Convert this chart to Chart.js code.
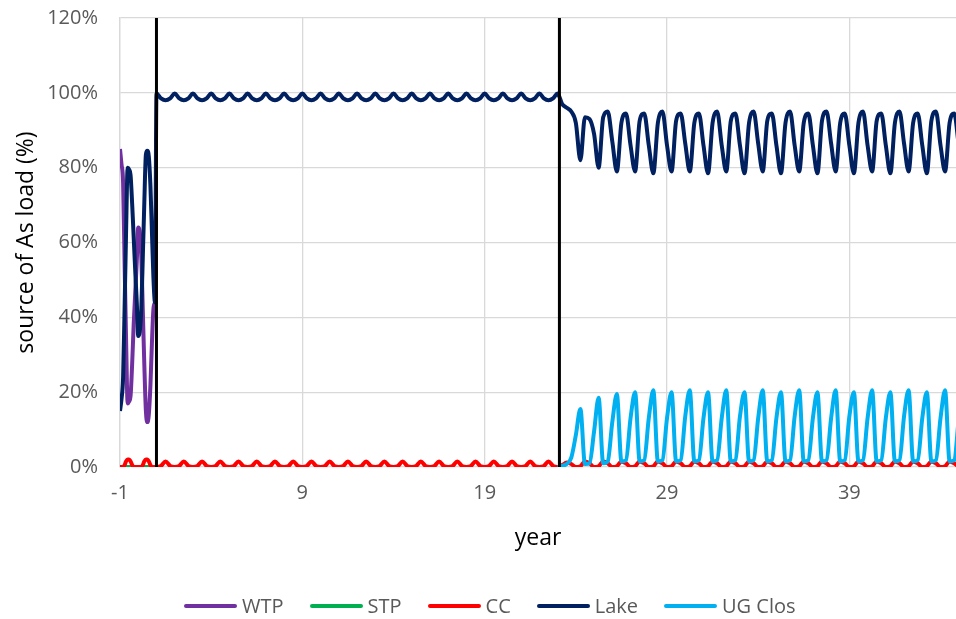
<!DOCTYPE html>
<html>
<head>
<meta charset="utf-8">
<script src="https://cdn.jsdelivr.net/npm/chart.js@4"></script>
<style>
  body { margin: 0; background: #fff; }
  #wrap { position: relative; width: 956px; height: 619px; }
  #legend {
    position: absolute; top: 594px; left: 184px;
    display: flex; align-items: center;
    font: 20px "Open Sans", sans-serif; line-height: 24px; color: #595959;
  }
  #legend .item { display: flex; align-items: center; margin-right: 26px; }
  #legend .swatch { width: 53px; height: 4px; border-radius: 2px; margin-right: 5px; }
</style>
</head>
<body>
<div id="wrap">
  <canvas id="asChart" width="956" height="619"></canvas>
  <div id="legend"></div>
</div>
<script>
// time axis: monthly for the first two years, quarterly afterwards
const years = [
  -1, -0.92, -0.83, -0.75, -0.67, -0.58, -0.5, -0.42, -0.33, -0.25, -0.17, -0.08,
  0, 0.08, 0.17, 0.25, 0.33, 0.42, 0.5, 0.58, 0.67, 0.75, 0.83, 0.92,
  1, 1.25, 1.5, 1.75, 2, 2.25, 2.5, 2.75,
  3, 3.25, 3.5, 3.75, 4, 4.25, 4.5, 4.75,
  5, 5.25, 5.5, 5.75, 6, 6.25, 6.5, 6.75,
  7, 7.25, 7.5, 7.75, 8, 8.25, 8.5, 8.75,
  9, 9.25, 9.5, 9.75, 10, 10.25, 10.5, 10.75,
  11, 11.25, 11.5, 11.75, 12, 12.25, 12.5, 12.75,
  13, 13.25, 13.5, 13.75, 14, 14.25, 14.5, 14.75,
  15, 15.25, 15.5, 15.75, 16, 16.25, 16.5, 16.75,
  17, 17.25, 17.5, 17.75, 18, 18.25, 18.5, 18.75,
  19, 19.25, 19.5, 19.75, 20, 20.25, 20.5, 20.75,
  21, 21.25, 21.5, 21.75, 22, 22.25, 22.5, 22.75,
  23, 23.25, 23.5, 23.75, 24, 24.25, 24.5, 24.75,
  25, 25.25, 25.5, 25.75, 26, 26.25, 26.5, 26.75,
  27, 27.25, 27.5, 27.75, 28, 28.25, 28.5, 28.75,
  29, 29.25, 29.5, 29.75, 30, 30.25, 30.5, 30.75,
  31, 31.25, 31.5, 31.75, 32, 32.25, 32.5, 32.75,
  33, 33.25, 33.5, 33.75, 34, 34.25, 34.5, 34.75,
  35, 35.25, 35.5, 35.75, 36, 36.25, 36.5, 36.75,
  37, 37.25, 37.5, 37.75, 38, 38.25, 38.5, 38.75,
  39, 39.25, 39.5, 39.75, 40, 40.25, 40.5, 40.75,
  41, 41.25, 41.5, 41.75, 42, 42.25, 42.5, 42.75,
  43, 43.25, 43.5, 43.75, 44, 44.25, 44.5, 44.75,
  45
];

const wtp = [
  85, 81, 76, 55, 35, 17, 17.5, 19, 28, 38, 46, 55,
  64, 63, 56, 42, 28, 15, 12, 14, 22, 33, 42, 44
];

const stp = [
  0, 0, 0, 0, 0, 0, 0, 0, 0, 0, 0, 0,
  0, 0, 0, 0, 0, 0, 0, 0, 0, 0, 0, 0
];

const cc = [
  0, 0, 0, 0.5, 1.5, 2, 2, 1.5, 0.5, 0, 0, 0,
  0, 0, 0, 0.5, 1.5, 2, 2, 1.5, 0.5, 0, 0, 0,
  0, 0.3, 1.5, 0.3, 0, 0.3, 1.5, 0.3,
  0, 0.3, 1.5, 0.3, 0, 0.3, 1.5, 0.3,
  0, 0.3, 1.5, 0.3, 0, 0.3, 1.5, 0.3,
  0, 0.3, 1.5, 0.3, 0, 0.3, 1.5, 0.3,
  0, 0.3, 1.5, 0.3, 0, 0.3, 1.5, 0.3,
  0, 0.3, 1.5, 0.3, 0, 0.3, 1.5, 0.3,
  0, 0.3, 1.5, 0.3, 0, 0.3, 1.5, 0.3,
  0, 0.3, 1.5, 0.3, 0, 0.3, 1.5, 0.3,
  0, 0.3, 1.5, 0.3, 0, 0.3, 1.5, 0.3,
  0, 0.3, 1.5, 0.3, 0, 0.3, 1.5, 0.3,
  0, 0.3, 1.5, 0.3, 0, 0.3, 1.5, 0.3,
  0, 0.5, 1.2, 0.8, 0, 0.2, 1.5, 1.0,
  0, 0.2, 1.5, 1.0, 0, 0.2, 1.5, 1.0,
  0, 0.2, 1.5, 1.0, 0, 0.2, 1.5, 1.0,
  0, 0.2, 1.5, 1.0, 0, 0.2, 1.5, 1.0,
  0, 0.2, 1.5, 1.0, 0, 0.2, 1.5, 1.0,
  0, 0.2, 1.5, 1.0, 0, 0.2, 1.5, 1.0,
  0, 0.2, 1.5, 1.0, 0, 0.2, 1.5, 1.0,
  0, 0.2, 1.5, 1.0, 0, 0.2, 1.5, 1.0,
  0, 0.2, 1.5, 1.0, 0, 0.2, 1.5, 1.0,
  0, 0.2, 1.5, 1.0, 0, 0.2, 1.5, 1.0,
  0, 0.2, 1.5, 1.0, 0, 0.2, 1.5, 1.0,
  0
];

const lake = [
  15, 18, 24, 42, 62, 80, 79.5, 78, 70, 61.5, 53, 44,
  35, 36, 42.5, 56, 70, 83.5, 84.5, 83, 75, 63, 51, 44,
  99.8, 98.5, 98, 98.5, 99.8, 98.5, 98, 98.5,
  99.8, 98.5, 98, 98.5, 99.8, 98.5, 98, 98.5,
  99.8, 98.5, 98, 98.5, 99.8, 98.5, 98, 98.5,
  99.8, 98.5, 98, 98.5, 99.8, 98.5, 98, 98.5,
  99.8, 98.5, 98, 98.5, 99.8, 98.5, 98, 98.5,
  99.8, 98.5, 98, 98.5, 99.8, 98.5, 98, 98.5,
  99.8, 98.5, 98, 98.5, 99.8, 98.5, 98, 98.5,
  99.8, 98.5, 98, 98.5, 99.8, 98.5, 98, 98.5,
  99.8, 98.5, 98, 98.5, 99.8, 98.5, 98, 98.5,
  99.8, 98.5, 98, 98.5, 99.8, 98.5, 98, 98.5,
  99.8, 98.5, 98, 98.5, 99.8, 98.5, 98, 98.5,
  99.8, 97, 96, 95, 92, 82, 93.5, 93,
  89, 80, 93.5, 95, 87, 79, 92, 94.5,
  86, 79, 92.5, 94.5, 86, 78.5, 92, 95,
  86, 79, 92.5, 94.5, 86.5, 79, 92, 94.5,
  86, 78.5, 92, 95, 86, 79, 92.5, 94.5,
  86, 78.5, 92, 95, 86.5, 79, 92.5, 94.5,
  86, 78.5, 92, 95, 86, 79, 92, 94.5,
  86, 78.5, 92.5, 95, 86.5, 79, 92, 94.5,
  86, 78.5, 92, 95, 86, 79, 92.5, 94.5,
  86, 78.5, 92, 95, 86.5, 79, 92, 94.5,
  86, 78.5, 92.5, 95, 86, 79, 92, 94.5,
  86
];

// UG closure starts in year 23
const ugStartYear = 23;
const ugClos = [
  0, 0.3, 0.8, 2.5, 8.5, 15.5, 0.8, 1,
  9.5, 18.5, 1, 1.5, 12, 19.5, 1.5, 1.8,
  13, 20, 1.5, 1.8, 13, 20.5, 1.5, 1.8,
  13, 20, 1.5, 1.8, 13.5, 20.5, 1.5, 1.8,
  13, 20, 1.5, 1.8, 13, 20.5, 1.5, 1.8,
  13.5, 20, 1.5, 1.8, 13, 20.5, 1.5, 1.8,
  13, 20, 1.5, 1.8, 13.5, 20.5, 1.5, 1.8,
  13, 20, 1.5, 1.8, 13, 20.5, 1.5, 1.8,
  13.5, 20, 1.5, 1.8, 13, 20.5, 1.5, 1.8,
  13, 20, 1.5, 1.8, 13.5, 20.5, 1.5, 1.8,
  13, 20, 1.5, 1.8, 13, 20.5, 1.5, 1.8,
  13
];

const markerYears = [1, 23.1];
const xTicks = [-1, 9, 19, 29, 39];

const seriesNames = ["WTP", "STP", "CC", "Lake", "UG Clos"];
const seriesColors = ["#7030A0", "#00B050", "#FF0000", "#002060", "#00B0F0"];

function toPoints(values, startYear) {
  const start = years.indexOf(startYear);
  return values.map((v, i) => ({ x: years[start + i], y: v }));
}

const seriesData = [
  toPoints(wtp, -1),
  toPoints(stp, -1),
  toPoints(cc, -1),
  toPoints(lake, -1),
  toPoints(ugClos, ugStartYear)
];

const datasets = seriesNames.map((name, i) => ({
  label: name,
  data: seriesData[i],
  borderColor: seriesColors[i],
  backgroundColor: seriesColors[i],
  borderWidth: 4,
  borderJoinStyle: "round",
  cubicInterpolationMode: "monotone",
  order: seriesNames.length - i + 1
}));

markerYears.forEach(m => {
  datasets.push({
    label: "",
    data: [{ x: m, y: 0 }, { x: m, y: 120 }],
    borderColor: "#000",
    borderWidth: 3,
    order: 0
  });
});

// legend
const legend = document.getElementById("legend");
seriesNames.forEach((name, i) => {
  const item = document.createElement("div");
  item.className = "item";
  item.innerHTML = `<span class="swatch" style="background:${seriesColors[i]}"></span><span>${name}</span>`;
  legend.appendChild(item);
});

const tickFont = { family: "'Open Sans', sans-serif", size: 20 };
const titleFont = { family: "'Open Sans', sans-serif", size: 23 };

new Chart(document.getElementById("asChart"), {
  type: "line",
  data: { datasets },
  options: {
    responsive: false,
    animation: false,
    layout: { padding: { top: 0, right: 0, bottom: 52, left: 0 } },
    plugins: { legend: { display: false }, tooltip: { enabled: false } },
    elements: { point: { radius: 0 } },
    scales: {
      x: {
        type: "linear",
        min: -1,
        max: 44.85,
        afterBuildTicks: s => { s.ticks = xTicks.map(v => ({ value: v })); },
        afterFit: s => { s.height = 100; },
        grid: { color: "#d9d9d9", lineWidth: 1.3, drawTicks: false },
        border: { display: false },
        ticks: { color: "#595959", font: tickFont, padding: 14, maxRotation: 0 },
        title: { display: true, text: "year", color: "#000", font: titleFont, padding: { top: 0, bottom: 15 } }
      },
      y: {
        min: 0,
        max: 120,
        afterFit: s => { s.width = 120; },
        grid: { color: "#d9d9d9", lineWidth: 1.3, drawTicks: true, tickLength: 16, tickColor: "rgba(0,0,0,0)" },
        border: { display: true, color: "#d9d9d9", width: 1.3 },
        ticks: { stepSize: 20, color: "#595959", font: tickFont, padding: 6, callback: v => v + "%" },
        title: { display: true, text: "source of As load (%)", color: "#000", font: titleFont, padding: { top: 13, bottom: 0 } }
      }
    }
  }
});
</script>
</body>
</html>
